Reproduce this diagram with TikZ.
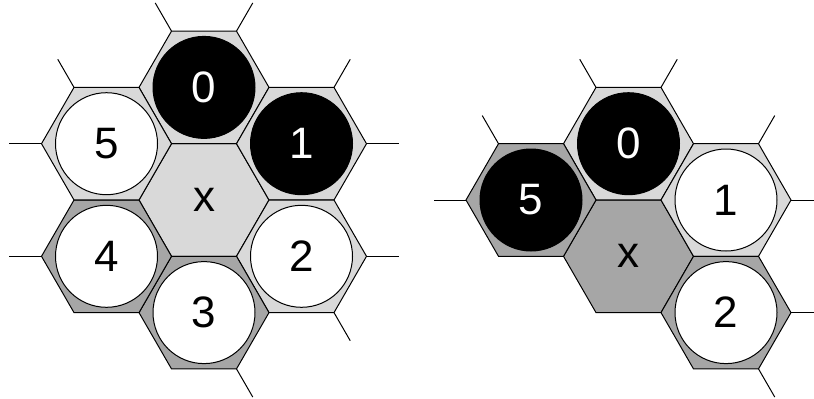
\documentclass[tikz,border=0pt]{standalone}
\usepackage{fontspec}
\setmainfont{Liberation Sans}
\usetikzlibrary{shapes.geometric}
\definecolor{celllight}{HTML}{D9D9D9}
\definecolor{celldark}{HTML}{A6A6A6}

\begin{document}
\begin{tikzpicture}[
    x=0.5pt, y=0.5pt,
    cell/.style={draw, regular polygon, regular polygon sides=6, minimum size=65pt, inner sep=0pt, outer sep=0pt, line width=0.5pt, font=\fontsize{22}{26}\selectfont},
    light/.style={cell, fill=celllight},
    dark/.style={cell, fill=celldark},
    stone/.style={draw, circle, minimum size=51pt, inner sep=0pt, outer sep=0pt, line width=0.5pt, font=\fontsize{22}{26}\selectfont},
    bstone/.style={stone, fill=black, text=white},
    wstone/.style={stone, fill=white, text=black},
    stub/.style={line width=0.5pt},
]
\useasboundingbox (0,0) rectangle (814,398);

% Left cluster
\node[light] (lx) at (204,198) {x};
\node[light] (l0) at (204,310.6) {};
\node[light] (l1) at (301.5,254.3) {};
\node[light] (l2) at (301.5,141.7) {};
\node[dark] (l3) at (204,85.4) {};
\node[dark] (l4) at (106.5,141.7) {};
\node[light] (l5) at (106.5,254.3) {};

\node[bstone] (s0) at (l0.center) {0};
\node[bstone] (s1) at (l1.center) {1};
\node[wstone] (s2) at (l2.center) {2};
\node[wstone] (s3) at (l3.center) {3};
\node[wstone] (s4) at (l4.center) {4};
\node[wstone] (s5) at (l5.center) {5};

\draw[stub] (l0.120) -- ++(120:32.5);
\draw[stub] (l0.60) -- ++(60:32.5);
\draw[stub] (l5.120) -- ++(120:32.5);
\draw[stub] (l5.180) -- ++(180:32.5);
\draw[stub] (l1.60) -- ++(60:32.5);
\draw[stub] (l1.0) -- ++(0:32.5);
\draw[stub] (l4.180) -- ++(180:32.5);
\draw[stub] (l2.0) -- ++(0:32.5);
\draw[stub] (l2.300) -- ++(300:32.5);
\draw[stub] (l3.300) -- ++(300:32.5);

% Right cluster
\node[dark] (rx) at (628.5,141.7) {x};
\node[light] (r0) at (628.5,254.3) {};
\node[light] (r1) at (726,198) {};
\node[dark] (r2) at (726,85.4) {};
\node[dark] (r5) at (531,198) {};

\node[bstone] (t0) at (r0.center) {0};
\node[wstone] (t1) at (r1.center) {1};
\node[wstone] (t2) at (r2.center) {2};
\node[bstone] (t5) at (r5.center) {5};

\draw[stub] (r0.120) -- ++(120:32.5);
\draw[stub] (r0.60) -- ++(60:32.5);
\draw[stub] (r5.120) -- ++(120:32.5);
\draw[stub] (r5.180) -- ++(180:32.5);
\draw[stub] (r1.60) -- ++(60:32.5);
\draw[stub] (r1.0) -- ++(0:32.5);
\draw[stub] (r2.0) -- ++(0:32.5);
\draw[stub] (r2.300) -- ++(300:32.5);

\end{tikzpicture}
\end{document}
